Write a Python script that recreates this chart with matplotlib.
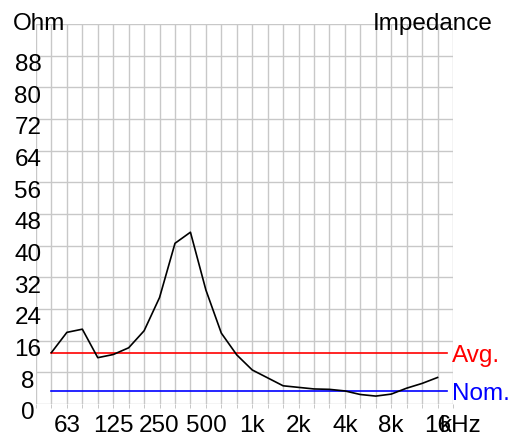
import matplotlib
matplotlib.use("Agg")
import matplotlib.pyplot as plt
from matplotlib.transforms import blended_transform_factory

plt.rcParams['font.family'] = ['Liberation Sans Narrow', 'Liberation Sans', 'DejaVu Sans']

# 1/3 octave bands, 40 Hz .. 20 kHz (index positions on the x axis)
bands = ["40", "50", "63", "80", "100", "125", "160", "200", "250", "315", "400",
         "500", "630", "800", "1k", "1.25k", "1.6k", "2k", "2.5k", "3.15k", "4k",
         "5k", "6.3k", "8k", "10k", "12.5k", "16k", "20k"]

# impedance curve, 50 Hz .. 16 kHz
imp_bands = bands[1:27]
impedance = [13.0, 18.1, 18.9, 11.7, 12.5, 14.2, 18.5, 26.9, 40.6, 43.4, 28.8,
             17.9, 12.4, 8.6, 6.6, 4.6, 4.2, 3.8, 3.7, 3.3, 2.4, 2.0, 2.5, 4.0,
             5.2, 6.7]

avg_value = 12.9
nom_value = 3.2

x_ticks = ["63", "125", "250", "500", "1k", "2k", "4k", "8k", "16k"]
x_tick_labels = ["63", "125", "250", "500", "1k", "2k", "4k", "8k", "16"]
y_ticks = [0, 8, 16, 24, 32, 40, 48, 56, 64, 72, 80, 88]

GRID = '#c8c8c8'
FS = 17.5

fig = plt.figure(figsize=(5.09, 4.38), dpi=100)
ax = fig.add_axes([36 / 509, 34 / 438, 417 / 509, 380 / 438])

xs = [bands.index(b) for b in imp_bands]

ax.set_xlim(0, len(bands) - 1)
ax.set_ylim(0, 96)

# grid: every 1/3 octave, every 8 ohm
for i in range(len(bands)):
    ax.axvline(i, color=GRID, lw=1.0, zorder=1)
for v in range(0, 97, 8):
    ax.axhline(v, color=GRID, lw=1.0, zorder=1)

# avg / nominal lines
x_end = bands.index("16k") + 0.6
ax.plot([xs[0], x_end], [avg_value, avg_value], color='#ff0000', lw=1.2, zorder=2)
ax.plot([xs[0], x_end], [nom_value, nom_value], color='#0000ff', lw=1.2, zorder=2)
ax.annotate("Avg.", xy=(len(bands) - 1, avg_value), xytext=(-0.5, -6.5),
            textcoords='offset points', ha='left', va='baseline',
            color='#ff0000', fontsize=FS, annotation_clip=False)
ax.annotate("Nom.", xy=(len(bands) - 1, nom_value), xytext=(-0.5, -6.5),
            textcoords='offset points', ha='left', va='baseline',
            color='#0000ff', fontsize=FS, annotation_clip=False)

ax.plot(xs, impedance, color='black', lw=1.2, zorder=3)

for s in ax.spines.values():
    s.set_visible(False)

ax.set_xticks([bands.index(b) for b in x_ticks])
ax.set_xticklabels(x_tick_labels, fontsize=FS)
ax.tick_params(axis='x', length=2.9, width=0.72, color=GRID, pad=5.0)
ax.set_xticks(range(len(bands)), minor=True)
ax.tick_params(axis='x', which='minor', length=2.9, width=0.72, color=GRID)
ax.set_yticks([])

ax.annotate("kHz", xy=(bands.index("16k"), 0), xytext=(1.5, -7.9),
            textcoords='offset points', ha='left', va='top', fontsize=FS,
            annotation_clip=False)

trans = blended_transform_factory(ax.transAxes, ax.transData)
for v in y_ticks:
    ax.annotate(str(v), xy=(0, v), xycoords=trans, xytext=(-5.8, 1.2),
                textcoords='offset points', ha='center', va='top', fontsize=FS,
                annotation_clip=False)

fig.text(13 / 509, 1 - 30 / 438, "Ohm", fontsize=FS, ha='left', va='baseline')
fig.text(493 / 509, 1 - 30 / 438, "Impedance", fontsize=FS, ha='right', va='baseline')

fig.savefig("out.png", dpi=100)
